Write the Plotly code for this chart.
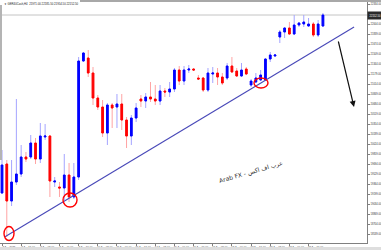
import plotly.graph_objects as go

# GER40 H4 bars, oldest first
bar_index = list(range(68))
opens = [19215.5, 19694, 19083.5, 19397, 19529, 19809.5, 19809.5, 20040.5, 19776.5, 20139.5,
         20156, 19397, 19314.5, 19298, 19512.5, 19149.5, 19479.5, 21393.5, 21443, 21195.5,
         20783, 20634.5, 20205.5, 20667.5, 20634.5, 20684, 20420, 20156, 20453, 20766.5,
         20733.5, 20799.5, 20766.5, 20733.5, 20898.5, 20882, 20931.5, 21245, 21063.5, 21245,
         21261.5, 21113, 21113, 20915, 21179, 21195.5, 21129.5, 21113, 21311, 21228.5,
         21146, 21261.5, 20997.5, 21047, 21080, 21080, 21426.5, 21476, 21789.5, 21872,
         21938, 21839, 21987.5, 22004, 21971, 22004, 21822.5, 21971]
highs = [19925, 19760, 19760, 20766.5, 20007.5, 19892, 20172.5, 20123, 20370.5, 20354,
         20172.5, 19479.5, 19397, 19859, 19710.5, 19710.5, 21459.5, 21542, 21575, 21294.5,
         20832.5, 20750, 20700.5, 20700.5, 20849, 20849, 20469.5, 20502.5, 20700.5, 20832.5,
         20865.5, 21047, 20997.5, 20997.5, 20948, 21047, 21278, 21311, 21311, 21327.5,
         21278, 21162.5, 21129.5, 21278, 21294.5, 21278, 21195.5, 21360.5, 21459.5, 21278,
         21360.5, 21294.5, 21096.5, 21195.5, 21245, 21443, 21542, 21509, 21905, 21954.5,
         22037, 22152.5, 22037, 22152.5, 22103, 22037, 22070, 22185.5]
lows = [19199, 18489.5, 19001, 19347.5, 19479.5, 19727, 19776.5, 19694, 19710.5, 20090,
        19149.5, 19314.5, 19149.5, 19100, 19067, 19116.5, 19430, 21377, 21129.5, 20667.5,
        20585, 20139.5, 20007.5, 20288, 20288, 20255, 19958, 20007.5, 20387, 20634.5,
        20618, 20717, 20667.5, 20667.5, 20799.5, 20799.5, 20882, 20997.5, 20997.5, 21195.5,
        21228.5, 21080, 20882, 20882, 21030.5, 20997.5, 20997.5, 21080, 21195.5, 21129.5,
        21129.5, 21162.5, 20964.5, 21030.5, 21063.5, 21063.5, 21377, 21459.5, 21690.5, 21773,
        21822.5, 21822.5, 21954.5, 21954.5, 21954.5, 21789.5, 21789.5, 21954.5]
closes = [19677.5, 19083.5, 19397, 19529, 19809.5, 19776.5, 20040.5, 19776.5, 20156, 20156,
          19413.5, 19413.5, 19298, 19512.5, 19149.5, 19479.5, 21393.5, 21525.5, 21195.5, 20783,
          20634.5, 20205.5, 20667.5, 20618, 20684, 20420, 20156, 20453, 20618, 20733.5,
          20799.5, 20766.5, 20733.5, 20898.5, 20882, 20931.5, 21245, 21063.5, 21245, 21261.5,
          21245, 21096.5, 20915, 21195.5, 21195.5, 21129.5, 21030.5, 21311, 21212, 21146,
          21245, 21179, 21063.5, 21113, 21162.5, 21426.5, 21492.5, 21492.5, 21872, 21938,
          21839, 21987.5, 22020.5, 22037, 22004, 21822.5, 22004, 22152.5]

# time axis labels (every 4th bar)
x_tick_idx = [0, 4, 8, 12, 16, 20, 24, 28, 32, 36, 40, 44, 48, 52, 56, 60, 64]
x_tick_text = ["7 Apr 2025", "7 Apr 16:00", "8 Apr 08:00", "9 Apr 00:00", "9 Apr 16:00",
               "10 Apr 08:00", "11 Apr 00:00", "11 Apr 16:00", "14 Apr 08:00", "15 Apr 00:00",
               "15 Apr 16:00", "16 Apr 08:00", "17 Apr 00:00", "17 Apr 16:00", "22 Apr 08:00",
               "23 Apr 00:00", "23 Apr 16:00"]

# price scale labels
y_tick_vals = [22334, 22169, 22004, 21839, 21674, 21509, 21344, 21179, 21014, 20849,
               20684, 20519, 20354, 20189, 20024, 19859, 19694, 19529, 19364, 19199,
               19034, 18869, 18704, 18539]
y_tick_text = [f"{v:.2f}" for v in y_tick_vals]

# rising support line and the three touches
trend_x = [0.63, 73.5]
trend_y = [18494, 21955]
touch_idx = [1.46, 14.2, 54.07]
touch_price = [18547, 19100, 21030.5]
touch_rx = [5, 7, 7]
touch_ry = [7, 7, 5]

bid_price = closes[-1]
symbol_title = "▼ GER40Cash,H4  21971.00 22185.50 21954.50 22152.50"
watermark = "Arab FX - عرب اف اكس"

body_hi = [max(o, c) for o, c in zip(opens, closes)]
body_lo = [min(o, c) for o, c in zip(opens, closes)]

fig = go.Figure()

# wicks
fig.add_trace(go.Candlestick(
    x=bar_index, open=opens, high=highs, low=lows, close=closes,
    increasing=dict(line=dict(color="#a4a4ff", width=1), fillcolor="#a4a4ff"),
    decreasing=dict(line=dict(color="#ffa4a4", width=1), fillcolor="#ffa4a4"),
    hoverinfo="skip",
))
# bodies
fig.add_trace(go.Candlestick(
    x=bar_index, open=opens, high=body_hi, low=body_lo, close=closes,
    increasing=dict(line=dict(color="#0000ff", width=1), fillcolor="#0000ff"),
    decreasing=dict(line=dict(color="#ff0000", width=1), fillcolor="#ff0000"),
    hoverinfo="skip",
))

fig.add_trace(go.Scatter(
    x=trend_x, y=trend_y, mode="lines",
    line=dict(color="#4848b8", width=1.1), hoverinfo="skip",
))

shapes = [
    # bid line
    dict(type="line", xref="paper", yref="y", x0=0, x1=1, y0=bid_price, y1=bid_price,
         line=dict(color="#c4c4c4", width=1), layer="below"),
    # window chrome
    dict(type="rect", xref="paper", yref="paper", x0=80 / 367, x1=1.05, y0=1 - 2 / 243, y1=1,
         fillcolor="#a8a8a8", line=dict(width=0)),
    dict(type="rect", xref="paper", yref="paper", x0=0, x1=2 / 367, y0=1 - 160 / 243, y1=1 - 5 / 243,
         fillcolor="#b4b4b4", line=dict(width=0)),
    dict(type="rect", xref="paper", yref="paper", x0=-0.01, x1=1.05, y0=1 - 250 / 243, y1=1 - 247 / 243,
         fillcolor="#dedede", line=dict(width=0)),
]
for xi, yp, rx, ry in zip(touch_idx, touch_price, touch_rx, touch_ry):
    shapes.append(dict(type="circle", xref="x", yref="y", xsizemode="pixel", ysizemode="pixel",
                       xanchor=xi, yanchor=yp, x0=-rx, x1=rx, y0=-ry, y1=ry,
                       line=dict(color="#ff0000", width=1.4)))

annotations = [
    dict(xref="paper", yref="paper", x=0.006, y=0.998, xanchor="left", yanchor="top",
         text=symbol_title, showarrow=False, font=dict(family="Liberation Sans", size=2.8, color="#222")),
    dict(xref="paper", yref="y", x=1.0, y=bid_price, xanchor="left", yanchor="middle",
         text=f"{bid_price:.2f}", showarrow=False, bgcolor="#2a2a2a", borderpad=1.5,
         font=dict(family="Liberation Sans", size=2.6, color="#ffffff")),
    dict(xref="paper", yref="paper", x=251 / 367, y=1 - 172 / 243, xanchor="center", yanchor="middle",
         text=watermark, showarrow=False, textangle=-16,
         font=dict(family="DejaVu Sans", size=6, color="#2a2a2a")),
    dict(xref="paper", yref="paper", x=354 / 367, y=1 - 107 / 243, text="",
         showarrow=True, ax=-16, ay=-67, arrowhead=2, arrowsize=1, arrowwidth=1.2,
         arrowcolor="#111111", standoff=0),
]

fig.update_layout(
    template="none",
    width=381, height=250,
    margin=dict(l=0, r=14, t=0, b=7),
    paper_bgcolor="white", plot_bgcolor="white",
    showlegend=False,
    boxgap=0.5,
    shapes=shapes,
    annotations=annotations,
    xaxis=dict(
        range=[-0.418, 76.2], rangeslider=dict(visible=False),
        showgrid=False, zeroline=False, showline=True, linecolor="#808080", linewidth=1,
        ticks="outside", ticklen=2, tickcolor="#808080",
        tickvals=x_tick_idx, ticktext=x_tick_text, tickangle=0, ticklabelshift=7,
        tickfont=dict(family="Liberation Sans", size=2.7, color="#333"),
        automargin=False,
    ),
    yaxis=dict(
        range=[18390.5, 22400], side="right",
        showgrid=False, zeroline=False, showline=True, linecolor="#808080", linewidth=1,
        ticks="outside", ticklen=2, tickcolor="#808080",
        tickvals=y_tick_vals, ticktext=y_tick_text,
        tickfont=dict(family="Liberation Sans", size=2.6, color="#333"),
        automargin=False,
    ),
)

fig.write_html("out.html")
